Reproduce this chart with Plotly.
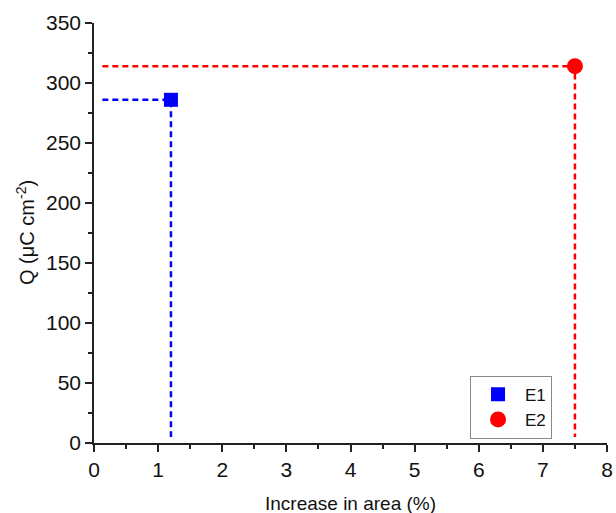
import plotly.graph_objects as go

series = ["E1", "E2"]
area_increase = [1.2, 7.5]          # Increase in area (%)
charge = [286, 314]                 # Q (µC cm^-2)
colors = ["#0000ff", "#ff0000"]
symbols = ["square", "circle"]
x_title = "Increase in area (%)"
y_title = "Q (μC cm<sup>-2</sup>)"
x_start = 0.13
y_end = 5

fig = go.Figure()
for name, x, y, c in zip(series, area_increase, charge, colors):
    fig.add_trace(go.Scatter(x=[x_start, x, x], y=[y, y, y_end], mode="lines",
                             line=dict(color=c, width=2.5, dash="6px,4px"),
                             showlegend=False, hoverinfo="skip"))
for name, x, y, c, s in zip(series, area_increase, charge, colors, symbols):
    fig.add_trace(go.Scatter(x=[x], y=[y], mode="markers", name=name,
                             marker=dict(color=c, symbol=s, size=16 if s == "circle" else 14,
                                         line=dict(width=0))))

font = dict(family="Liberation Sans, Arial, sans-serif", color="#111111")
fig.update_layout(
    width=616, height=513,
    margin=dict(l=94, r=9, t=23, b=70, autoexpand=False),
    plot_bgcolor="white", paper_bgcolor="white",
    font=dict(**font, size=19),
    xaxis=dict(range=[0, 8], dtick=1, showgrid=False, zeroline=False, automargin=False,
               showline=True, linecolor="#222222", linewidth=1.5,
               ticks="outside", ticklen=7, tickwidth=1.5, tickcolor="#222222",
               minor=dict(dtick=0.5, ticks="outside", ticklen=4, tickwidth=1.5, tickcolor="#222222"),
               tickfont=dict(size=21)),
    yaxis=dict(range=[0, 350], dtick=50, showgrid=False, zeroline=False, automargin=False,
               showline=True, linecolor="#222222", linewidth=1.5,
               ticks="outside", ticklen=7, tickwidth=1.5, tickcolor="#222222",
               minor=dict(dtick=25, ticks="outside", ticklen=4, tickwidth=1.5, tickcolor="#222222"),
               tickfont=dict(size=21)),
    legend=dict(x=0.733, y=0.085, xanchor="left", yanchor="middle",
                bordercolor="#888888", borderwidth=1, bgcolor="white",
                font=dict(size=17), itemwidth=44, tracegroupgap=0),
    annotations=[
        dict(text=x_title, xref="paper", yref="paper", x=0.5, y=-60 / 420,
             xanchor="center", yanchor="middle", showarrow=False, font=dict(size=19)),
        dict(text=y_title, xref="paper", yref="paper", x=-69 / 513, y=0.5,
             xanchor="center", yanchor="middle", textangle=-90, showarrow=False,
             font=dict(size=20)),
    ],
)
fig.write_html("out.html")
